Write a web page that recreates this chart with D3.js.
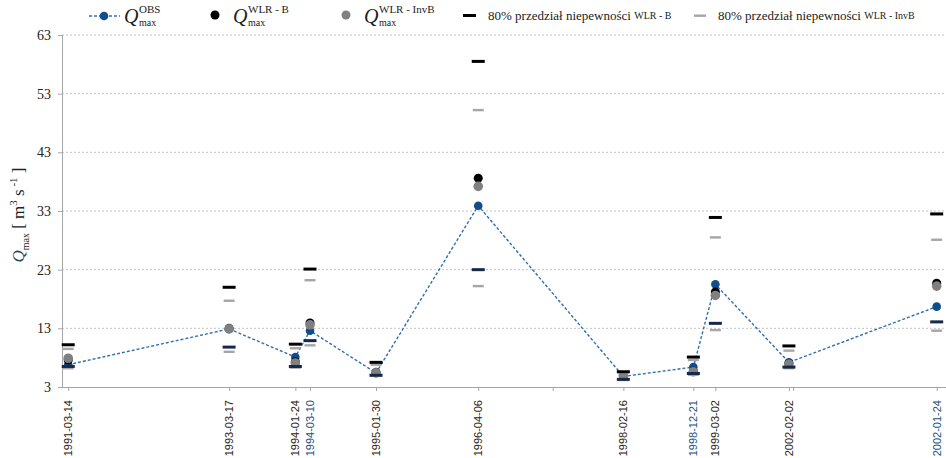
<!DOCTYPE html>
<html>
<head>
<meta charset="utf-8">
<script src="https://cdn.jsdelivr.net/npm/d3@7/dist/d3.min.js"></script>
<style>
  html, body { margin: 0; padding: 0; background: #fff; }
  svg { display: block; }
</style>
</head>
<body>
<svg id="chart" width="946" height="458"></svg>
<script>
// Flood events: label of each event and its place along the time axis (days from first event)
const eventLabels = ["1991-03-14", "1993-03-17", "1994-01-24", "1994-03-10", "1995-01-30",
  "1996-04-06", "1998-02-16", "1998-12-21", "1999-03-02", "2002-02-02", "2002-01-24"];
const eventPos = [0, 724, 1022, 1088, 1385, 1845, 2498, 2813, 2912, 3243, 3908];
const extraTickPos = [2180, 3262];
const blueLabels = ["1994-03-10", "1998-12-21", "2002-01-24"];

// Observed and simulated peak discharges [m3/s]
const qObs     = [6.8, 12.9, 8.1, 12.6, 5.4, 33.9, 4.8, 6.4, 20.5, 7.2, 16.7];
const qWlrB    = [7.6, 13.0, 7.3, 13.9, 5.5, 38.6, 4.9, 5.7, 19.2, 7.0, 20.7];
const qWlrInvB = [7.9, 12.9, 7.1, 13.6, 5.4, 37.2, 4.9, 5.6, 18.6, 6.9, 20.2];

// 80% uncertainty bounds
const bUpper   = [10.2, 20.0, 10.3, 23.1, 7.2, 58.5, 5.6, 8.1, 31.9, 10.0, 32.5];
const bLower   = [6.5, 9.8, 6.5, 10.9, 5.0, 23.0, 4.3, 5.3, 13.85, 6.4, 14.1];
const invUpper = [9.5, 17.7, 9.6, 21.2, 6.8, 50.2, 5.5, 7.6, 28.5, 9.2, 28.1];
const invLower = [6.2, 9.0, 6.3, 10.1, 4.9, 20.2, 4.2, 5.1, 12.7, 6.2, 12.6];

const yTicks = [3, 13, 23, 33, 43, 53, 63];

const svg = d3.select("#chart");
const plotLeft = 62, plotRight = 944, plotTop = 35, plotBottom = 387;

const x = d3.scaleLinear().domain([-28, 3908]).range([plotLeft, 936.7]);
const y = d3.scaleLinear().domain([3, 63]).range([plotBottom, plotTop]);

const serif = "'Liberation Serif', 'Times New Roman', serif";
const sans = "'Liberation Sans', Arial, sans-serif";

// gridlines
svg.append("g").selectAll("line").data(yTicks.filter(d => d > 3)).join("line")
  .attr("x1", plotLeft).attr("x2", plotRight)
  .attr("y1", d => y(d)).attr("y2", d => y(d))
  .attr("stroke", "#c4c4c4").attr("stroke-width", 1).attr("stroke-dasharray", "2,2");

// y axis
const yAxis = d3.axisLeft(y).tickValues(yTicks).tickSize(4).tickPadding(7);
const gy = svg.append("g").attr("transform", `translate(${plotLeft},0)`).call(yAxis);
gy.select(".domain").attr("stroke", "#a6a6a6");
gy.selectAll(".tick line").attr("stroke", "#a6a6a6");
gy.selectAll(".tick text").attr("font-family", serif).attr("font-size", 14).attr("fill", "#222");

// x axis
const xAxis = d3.axisBottom(x).tickValues(eventPos.concat(extraTickPos))
  .tickSize(4).tickFormat(() => "");
const gx = svg.append("g").attr("transform", `translate(0,${plotBottom})`).call(xAxis);
gx.select(".domain").attr("d", `M${plotLeft},0.5H946`).attr("stroke", "#a6a6a6");
gx.selectAll(".tick line").attr("stroke", "#a6a6a6");

svg.append("g").selectAll("text").data(eventLabels).join("text")
  .attr("transform", (d, i) => `translate(${x(eventPos[i])},400) rotate(-90)`)
  .attr("text-anchor", "end").attr("dy", "0.35em")
  .attr("font-family", sans).attr("font-size", 11)
  .attr("fill", d => blueLabels.includes(d) ? "#1d4f7e" : "#2e2418")
  .text(d => d);

// y axis title
const yt = svg.append("text")
  .attr("transform", "translate(24,215) rotate(-90)")
  .attr("text-anchor", "middle").attr("font-family", serif).attr("font-size", 17).attr("fill", "#222");
yt.append("tspan").attr("font-style", "italic").attr("fill", "#1d4a5a").text("Q");
yt.append("tspan").attr("font-size", 10).attr("dy", 5).text("max");
yt.append("tspan").attr("dy", -5).text(" [ m");
yt.append("tspan").attr("font-size", 11).attr("dy", -7).text("3");
yt.append("tspan").attr("dy", 7).text(" s");
yt.append("tspan").attr("font-size", 11).attr("dy", -7).text(" -1");
yt.append("tspan").attr("dy", 7).text(" ]");

const idx = d3.range(eventLabels.length);

// observed line
svg.append("path")
  .attr("d", d3.line().x(i => x(eventPos[i])).y(i => y(qObs[i]))(idx))
  .attr("fill", "none").attr("stroke", "#2e6fb0").attr("stroke-width", 1.4)
  .attr("stroke-dasharray", "3,2");

svg.append("g").selectAll("circle").data(idx).join("circle")
  .attr("cx", i => x(eventPos[i])).attr("cy", i => y(qObs[i])).attr("r", 4.3)
  .attr("fill", "#0f4d8c");

svg.append("g").selectAll("circle").data(idx).join("circle")
  .attr("cx", i => x(eventPos[i])).attr("cy", i => y(qWlrB[i])).attr("r", 4.5)
  .attr("fill", "#000");

svg.append("g").selectAll("circle").data(idx).join("circle")
  .attr("cx", i => x(eventPos[i])).attr("cy", i => y(qWlrInvB[i])).attr("r", 4.8)
  .attr("fill", "#808080");

// uncertainty bars
function bars(values, w, h, color) {
  svg.append("g").selectAll("rect").data(idx).join("rect")
    .attr("x", i => x(eventPos[i]) - w / 2).attr("y", i => y(values[i]) - h / 2)
    .attr("width", w).attr("height", h).attr("fill", color);
}
bars(invUpper, 11, 2.4, "#a6a6a6");
bars(invLower, 11, 2.4, "#a6a6a6");
bars(bUpper, 13, 3, "#000");
bars(bLower, 13, 3, "#16294a");

// legend
const lg = svg.append("g").attr("font-family", serif).attr("fill", "#222");
lg.append("line").attr("x1", 89).attr("x2", 120).attr("y1", 16).attr("y2", 16)
  .attr("stroke", "#2e6fb0").attr("stroke-width", 1.4).attr("stroke-dasharray", "3,2");
lg.append("circle").attr("cx", 104).attr("cy", 16).attr("r", 4.3).attr("fill", "#0f4d8c");
lg.append("circle").attr("cx", 215).attr("cy", 15).attr("r", 4.5).attr("fill", "#000");
lg.append("circle").attr("cx", 346).attr("cy", 15).attr("r", 4.5).attr("fill", "#808080");
lg.append("rect").attr("x", 463).attr("y", 14).attr("width", 13).attr("height", 3).attr("fill", "#000");
lg.append("rect").attr("x", 694).attr("y", 14.5).attr("width", 12).attr("height", 2.4).attr("fill", "#a6a6a6");

function qLabel(x0, sup) {
  lg.append("text").attr("x", x0).attr("y", 23).attr("font-size", 20)
    .attr("font-style", "italic").text("Q");
  lg.append("text").attr("x", x0 + 15).attr("y", 13).attr("font-size", 11).text(sup);
  lg.append("text").attr("x", x0 + 15).attr("y", 26).attr("font-size", 10).text("max");
}
qLabel(124, "OBS");
qLabel(233, "WLR - B");
qLabel(364, "WLR - InvB");

function bandLabel(x0, sub) {
  const t = lg.append("text").attr("x", x0).attr("y", 20).attr("font-size", 13);
  t.append("tspan").text("80% przedział niepewności ");
  t.append("tspan").attr("font-size", 10).attr("dy", -1).text(sub);
}
bandLabel(488, "WLR - B");
bandLabel(718, "WLR - InvB");
</script>
</body>
</html>
